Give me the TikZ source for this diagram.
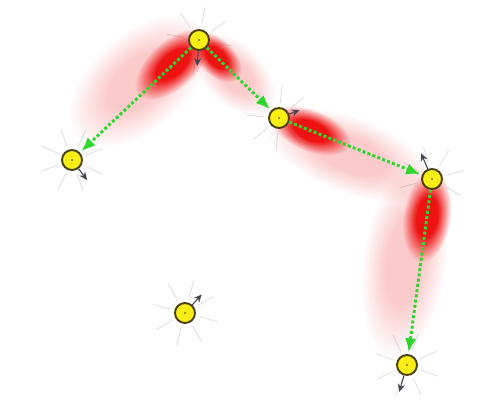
\documentclass[tikz,border=0pt]{standalone}
\usepackage{tikz}
\usetikzlibrary{arrows.meta,fadings}
\definecolor{beamred}{RGB}{238, 18, 18}
\definecolor{flowgreen}{RGB}{45, 215, 45}
\definecolor{agentyellow}{RGB}{250, 238, 20}
\definecolor{agentrim}{RGB}{75, 65, 15}
\definecolor{headgray}{RGB}{70, 70, 80}
\pgfdeclarelayer{bg}
\pgfsetlayers{bg,main}
\pgfdeclareradialshading{glowshade}{\pgfpointorigin}{color(0bp)=(white); color(11bp)=(white); color(25bp)=(black); color(50bp)=(black)}
\pgfdeclarefading{glow}{\pgfuseshading{glowshade}}
\tikzset{
  agent/.style={circle, draw=agentrim, line width=1.1pt, fill=agentyellow,
    minimum size=0.4cm, inner sep=0pt,
    path picture={\fill[agentrim] (path picture bounding box.center) circle (0.5pt);}},
  flow/.style={draw=flowgreen, line width=1.7pt, dash pattern=on 1.7pt off 1.3pt,
    -{Latex[length=8pt,width=6.5pt]}, shorten >=1pt},
  heading/.style={draw=headgray, line width=0.6pt, -{Stealth[length=4.5pt,width=4pt]}},
  spoke/.style={draw=gray!25, line width=0.5pt},
}
\begin{document}
\begin{tikzpicture}[x=0.02cm, y=-0.02cm]
  \useasboundingbox (0,0) rectangle (479,410);
  % Agents
  \node[agent] (top)    at (199, 40) {};
  \node[agent] (left)   at ( 72,160) {};
  \node[agent] (mid)    at (279,118) {};
  \node[agent] (right)  at (432,179) {};
  \node[agent] (lone)   at (185,313) {};
  \node[agent] (bottom) at (407,365) {};
  \begin{pgfonlayer}{bg}
    % Sensor spokes
    \foreach \n/\o in {top/10, left/25, mid/5, right/30, lone/15, bottom/20}
      \foreach \a in {0,45,...,315}
        \draw[spoke] (\n) ++(\a+\o:15) -- ++(\a+\o:18);
    % Beams
    \begin{scope}[transform canvas={shift={(199,40)}, rotate=-137.8}]
      \fill[beamred, opacity=0.22, path fading=glow] (72,10) ellipse (85 and 48);
      \fill[beamred, path fading=glow] (36,0) ellipse (46 and 24);
    \end{scope}
    \begin{scope}[transform canvas={shift={(199,40)}, rotate=-44.6}]
      \fill[beamred, opacity=0.22, path fading=glow] (48,0) ellipse (52 and 30);
      \fill[beamred, path fading=glow] (24,0) ellipse (31 and 18);
    \end{scope}
    \begin{scope}[transform canvas={shift={(279,118)}, rotate=-21.5}]
      \fill[beamred, opacity=0.22, path fading=glow] (78,8) ellipse (88 and 38);
      \fill[beamred, path fading=glow] (34,0) ellipse (42 and 21);
    \end{scope}
    \begin{scope}[transform canvas={shift={(432,179)}, rotate=-97.9}]
      \fill[beamred, opacity=0.22, path fading=glow] (85,16) ellipse (98 and 42);
      \fill[beamred, path fading=glow] (38,0) ellipse (46 and 24);
    \end{scope}
  \end{pgfonlayer}
  % Headings
  \draw[heading] (top)    -- ++(  94:26);
  \draw[heading] (left)   -- ++(  53:25);
  \draw[heading] (mid)    -- ++( -21:22);
  \draw[heading] (right)  -- ++(-113:28);
  \draw[heading] (lone)   -- ++( -48:25);
  \draw[heading] (bottom) -- ++( 106:28);
  % Links
  \draw[flow] (top)   -- (left);
  \draw[flow] (top)   -- (mid);
  \draw[flow] (mid)   -- (right);
  \draw[flow] (right) -- (bottom);
\end{tikzpicture}
\end{document}
